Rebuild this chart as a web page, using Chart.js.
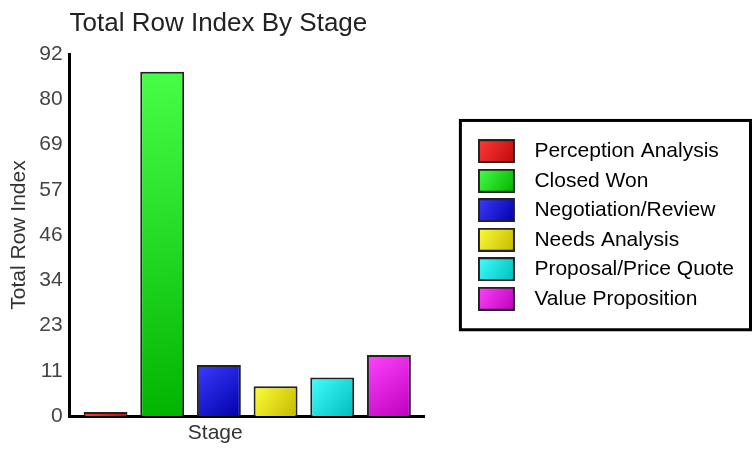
<!DOCTYPE html>
<html>
<head>
<meta charset="utf-8">
<script src="https://cdn.jsdelivr.net/npm/chart.js@4.4.1/dist/chart.umd.min.js"></script>
<style>
  html, body { margin: 0; padding: 0; background: #fff; }
  #wrap { width: 756px; height: 450px; }
</style>
</head>
<body>
<div id="wrap"><canvas id="barchart" width="756" height="450"></canvas></div>
<script>
// data
var stages = ['Perception Analysis', 'Closed Won', 'Negotiation/Review', 'Needs Analysis', 'Proposal/Price Quote', 'Value Proposition'];
var rowIndex = [1, 87.5, 13, 7.6, 9.8, 15.5];
var xLabels = ['Stage'];
var yTickLabels = ['0', '11', '23', '34', '46', '57', '69', '80', '92'];

// light / dark ends of each bar's shading
var lightColors = ['#ff3c3c', '#48ff48', '#3c3cff', '#ffff38', '#44ffff', '#ff44ff'];
var darkColors = ['#c00808', '#00b400', '#0000aa', '#c4b800', '#00bcbc', '#bc00bc'];

var FONT = 'Liberation Sans, Arial, sans-serif';

// small swatch pictures for the legend
var swatches = stages.map(function (s, i) {
    var c = document.createElement('canvas');
    c.width = 46;
    c.height = 24;
    var g = c.getContext('2d');
    var grad = g.createLinearGradient(0, 0, 37, 24);
    grad.addColorStop(0, lightColors[i]);
    grad.addColorStop(1, darkColors[i]);
    g.fillStyle = grad;
    g.fillRect(0, 0, 37, 24);
    g.strokeStyle = '#222';
    g.lineWidth = 2;
    g.strokeRect(1, 1, 35, 22);
    return c;
});

function barFill(i) {
    return function (ctx) {
        var chart = ctx.chart;
        var el = ctx.element;
        if (!chart.chartArea) return lightColors[i];
        var grad;
        if (el && isFinite(el.x) && isFinite(el.width) && isFinite(el.y)) {
            grad = chart.ctx.createLinearGradient(el.x - el.width / 2, el.y, el.x + el.width / 2, el.base);
        } else {
            var y = chart.scales.y;
            grad = chart.ctx.createLinearGradient(0, y.getPixelForValue(ctx.raw), 0, y.getPixelForValue(0));
        }
        grad.addColorStop(0, lightColors[i]);
        grad.addColorStop(1, darkColors[i]);
        return grad;
    };
}

var datasets = stages.map(function (name, i) {
    return {
        label: name,
        data: [rowIndex[i]],
        backgroundColor: barFill(i),
        borderColor: '#222',
        borderWidth: 2,
        barPercentage: 0.775,
        categoryPercentage: 0.957
    };
});

// black frame round the legend
var legendFrame = {
    id: 'legendFrame',
    afterDraw: function (chart) {
        var hb = chart.legend.legendHitBoxes;
        if (!hb || !hb.length) return;
        var c = chart.ctx;
        var left = hb[0].left - 17.5;
        var top = hb[0].top - 20.3;
        var bottom = hb[hb.length - 1].top + 41.5;
        var right = chart.width - 5.5;
        c.save();
        c.strokeStyle = '#000';
        c.lineWidth = 3;
        c.strokeRect(left, top, right - left, bottom - top);
        c.restore();
    }
};

var crt = document.getElementById('barchart').getContext('2d');
var myChart = new Chart(crt, {
    type: 'bar',
    data: {
        labels: xLabels,
        datasets: datasets
    },
    plugins: [legendFrame],
    options: {
        responsive: false,
        animation: false,
        layout: { padding: { left: 0, right: 12, top: 0, bottom: 0 } },
        plugins: {
            title: {
                display: true,
                text: 'Total Row Index By Stage',
                align: 'start',
                fullSize: false,
                color: '#222',
                font: { family: FONT, size: 26, weight: 'normal' },
                padding: { top: 8, bottom: 14.8 }
            },
            legend: {
                position: 'right',
                maxWidth: 400,
                onClick: null,
                labels: {
                    color: '#333',
                    font: { family: FONT, size: 21 },
                    usePointStyle: true,
                    pointStyleWidth: 46,
                    padding: 8.5,
                    generateLabels: function () {
                        return stages.map(function (name, i) {
                            return {
                                text: name,
                                fillStyle: lightColors[i],
                                strokeStyle: '#222',
                                lineWidth: 0,
                                pointStyle: swatches[i],
                                hidden: false,
                                datasetIndex: i
                            };
                        });
                    }
                }
            },
            tooltip: { enabled: false }
        },
        scales: {
            x: {
                grid: { display: false, drawTicks: false },
                border: { display: true, color: '#000', width: 3 },
                ticks: {
                    color: '#333',
                    font: { family: FONT, size: 21, lineHeight: 0.95 },
                    padding: 7,
                    labelOffset: -32
                }
            },
            y: {
                min: 0,
                max: 92,
                grid: { display: false, drawTicks: false },
                border: { display: true, color: '#000', width: 3 },
                afterBuildTicks: function (scale) {
                    scale.ticks = yTickLabels.map(function (t, i) { return { value: i * 11.5 }; });
                },
                ticks: {
                    color: '#444',
                    font: { family: FONT, size: 21 },
                    padding: 7,
                    callback: function (value, index) { return yTickLabels[index]; }
                },
                title: {
                    display: true,
                    text: 'Total Row Index',
                    color: '#333',
                    font: { family: FONT, size: 21 },
                    padding: { top: 7, bottom: 0 }
                }
            },
            // empty spacer between the plot and the legend
            gap: {
                type: 'linear',
                position: 'right',
                grid: { display: false },
                border: { display: false },
                ticks: { display: false },
                afterFit: function (scale) { scale.width = 44.5; }
            }
        }
    }
});
// second pass so the bar shading can use the bar positions
myChart.update();
</script>
</body>
</html>
